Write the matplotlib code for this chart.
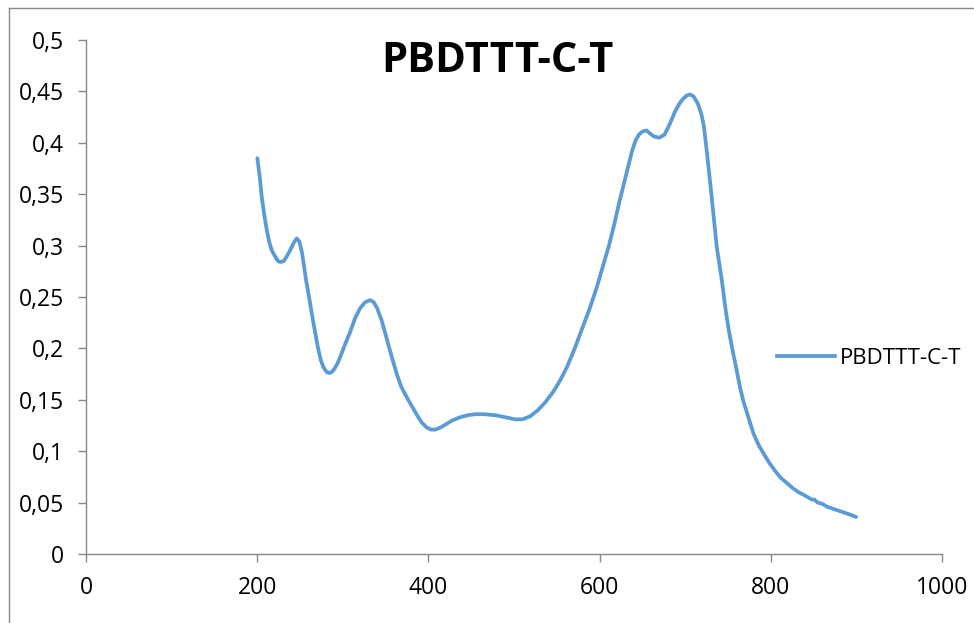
import matplotlib
matplotlib.use("Agg")
import matplotlib.pyplot as plt
from matplotlib.ticker import FuncFormatter
from matplotlib.lines import Line2D

title = "PBDTTT-C-T"
series_name = "PBDTTT-C-T"

wavelength = [200, 203, 205, 208, 211, 214, 217, 221, 224, 227, 231, 234, 238, 242, 246, 249,
              252, 254, 257, 260, 264, 267, 271, 274, 277, 281, 284, 287, 290, 294, 297, 302,
              308, 314, 320, 326, 332, 336, 340, 345, 351, 357, 363, 368, 373, 379, 386, 392,
              398, 403, 408, 414, 420, 428, 437, 446, 455, 465, 478, 490, 501, 510, 519, 528,
              537, 546, 554, 562, 571, 580, 589, 597, 604, 611, 617, 623, 629, 634, 638, 642,
              646, 650, 655, 659, 664, 670, 676, 682, 688, 694, 698, 702, 706, 710, 715, 719,
              722, 726, 731, 737, 743, 747, 751, 756, 760, 764, 768, 774, 780, 786, 793, 799,
              806, 812, 819, 826, 833, 842, 848, 851, 855, 860, 866, 873, 880, 887, 894, 900]
absorbance = [0.385, 0.365, 0.348, 0.330, 0.315, 0.303, 0.295, 0.289, 0.285, 0.284, 0.285, 0.289,
              0.295, 0.302, 0.307, 0.304, 0.294, 0.283, 0.266, 0.252, 0.232, 0.218, 0.200, 0.189,
              0.182, 0.177, 0.176, 0.177, 0.180, 0.186, 0.192, 0.203, 0.215, 0.229, 0.239, 0.245,
              0.247, 0.245, 0.239, 0.228, 0.210, 0.192, 0.175, 0.163, 0.155, 0.146, 0.136, 0.128,
              0.123, 0.121, 0.121, 0.123, 0.126, 0.130, 0.133, 0.135, 0.136, 0.136, 0.135, 0.133,
              0.131, 0.131, 0.134, 0.140, 0.148, 0.158, 0.169, 0.182, 0.200, 0.220, 0.240, 0.260,
              0.280, 0.300, 0.320, 0.342, 0.362, 0.379, 0.392, 0.402, 0.408, 0.411, 0.412, 0.409,
              0.406, 0.405, 0.408, 0.418, 0.430, 0.439, 0.443, 0.446, 0.447, 0.445, 0.438, 0.428,
              0.416, 0.387, 0.348, 0.299, 0.266, 0.240, 0.218, 0.196, 0.180, 0.163, 0.149, 0.133,
              0.117, 0.106, 0.096, 0.088, 0.080, 0.074, 0.069, 0.064, 0.060, 0.056, 0.053, 0.053,
              0.050, 0.049, 0.046, 0.044, 0.042, 0.040, 0.038, 0.036]

xticks = [0, 200, 400, 600, 800, 1000]
yticks = [0, 0.05, 0.1, 0.15, 0.2, 0.25, 0.3, 0.35, 0.4, 0.45, 0.5]

line_color = "#5B9BD5"
axis_color = "#898989"
plt.rcParams['font.family'] = ['Open Sans', 'DejaVu Sans']

fig = plt.figure(figsize=(9.74, 6.23), dpi=100)
ax = fig.add_axes([86.3 / 974, (623 - 554) / 623, (941.7 - 86.3) / 974, (554 - 40) / 623])
ax.plot(wavelength, absorbance, color=line_color, linewidth=2.7, solid_capstyle='round',
        solid_joinstyle='round', label=series_name)

ax.set_xlim(0, 1000)
ax.set_ylim(0, 0.5)
ax.set_xticks(xticks)
ax.set_yticks(yticks)


def comma_fmt(v, pos):
    s = ("%.2f" % v).rstrip('0').rstrip('.')
    return s.replace('.', ',')


ax.yaxis.set_major_formatter(FuncFormatter(comma_fmt))
ax.xaxis.set_major_formatter(FuncFormatter(lambda v, p: "%d" % v))
for side in ['top', 'right']:
    ax.spines[side].set_visible(False)
for side in ['left', 'bottom']:
    ax.spines[side].set_color(axis_color)
    ax.spines[side].set_linewidth(1.0)
ax.tick_params(axis='both', direction='out', color=axis_color, length=6, width=1.0,
               labelsize=16.5, labelcolor='black')
ax.tick_params(axis='y', pad=10)
ax.tick_params(axis='x', pad=10)

fig.text(497 / 974, 1 - 62 / 623, title, ha='center', va='center', fontsize=30,
         fontweight='bold', color='black')

leg = fig.legend(handles=[Line2D([], [], color=line_color, linewidth=2.7)],
                 labels=[series_name], loc='center left',
                 bbox_to_anchor=(768 / 974, 1 - 358 / 623), frameon=False,
                 fontsize=16, handlelength=2.6, handletextpad=0.25, borderaxespad=0)

fig.add_artist(Line2D([9 / 974, 9 / 974], [0, 1 - 8 / 623], transform=fig.transFigure,
                      color=axis_color, linewidth=1.0))
fig.add_artist(Line2D([9 / 974, 1], [1 - 8 / 623, 1 - 8 / 623], transform=fig.transFigure,
                      color=axis_color, linewidth=1.0))

fig.savefig("out.png", dpi=100)
